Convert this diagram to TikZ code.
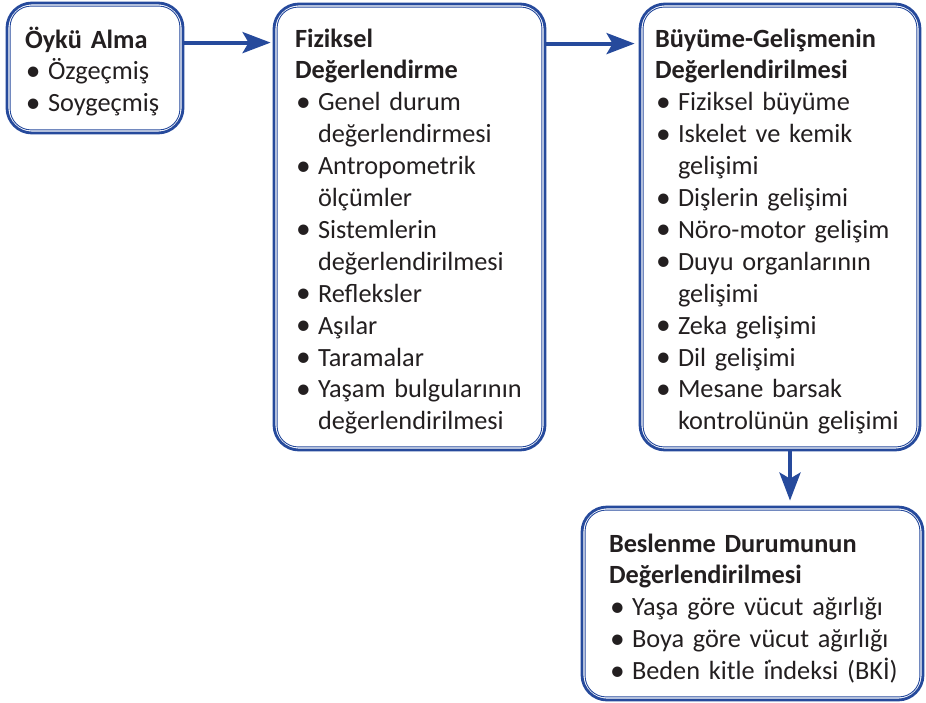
\documentclass[tikz,border=0pt]{standalone}
\usepackage{fontspec}
\setmainfont{Carlito}
\newfontfamily\markfont{Noto Sans}
\usepackage{xcolor}
\usetikzlibrary{arrows.meta}

\definecolor{boxblue}{RGB}{38,74,156}
\definecolor{txtgray}{RGB}{35,31,32}

% bullet item and its continuation line
\newcommand{\itm}[1]{\mbox{\makebox[23pt][l]{\hspace{1pt}\raisebox{-0.5pt}{\scalebox{1.12}{\textbullet}}}#1}}
\newcommand{\cnt}[1]{\mbox{\hspace*{23pt}#1}}
\newcommand{\ttl}[1]{\mbox{\textbf{#1}}}

\begin{document}
\begin{tikzpicture}[x=1pt, y=-1pt,
      stage/.style={draw=boxblue, line width=2.8pt, rounded corners=25pt,
        align=left, inner ysep=0pt, text=txtgray, text height=20pt,
        font=\fontsize{26.3}{31.9}\selectfont},
      flow/.style={draw=boxblue, line width=4pt,
        -{Stealth[length=28pt, width=21pt, inset=6pt]}}
      ]
      \useasboundingbox (0,0) rectangle (926,702);

      \node[stage, minimum width=176pt, minimum height=130pt, text depth=60pt,
        text width=140pt, inner xsep=18pt] (oyku) at (95,68)
        {\ttl{Öykü Alma}\\
         \itm{Özgeçmiş}\\
         \itm{Soygeçmiş}};

      \node[stage, minimum width=271pt, minimum height=446pt, text depth=380pt,
        text width=229pt, inner xsep=21pt] (fiziksel) at (409.5,227)
        {\ttl{Fiziksel}\\
         \ttl{Değerlendirme}\\
         \itm{Genel durum}\\
         \cnt{değerlendirmesi}\\
         \itm{Antropometrik}\\
         \cnt{ölçümler}\\
         \itm{Sistemlerin}\\
         \cnt{değerlendirilmesi}\\
         \itm{Refleksler}\\
         \itm{Aşılar}\\
         \itm{Taramalar}\\
         \itm{Yaşam bulgularının}\\
         \cnt{değerlendirilmesi}};

      \node[stage, minimum width=280pt, minimum height=446pt, text depth=380pt,
        text width=250pt, inner xsep=15pt] (buyume) at (780,227)
        {\ttl{Büyüme-Gelişmenin}\\
         \ttl{Değerlendirilmesi}\\
         \itm{Fiziksel büyüme}\\
         \itm{Iskelet ve kemik}\\
         \cnt{gelişimi}\\
         \itm{Dişlerin gelişimi}\\
         \itm{Nöro-motor gelişim}\\
         \itm{Duyu organlarının}\\
         \cnt{gelişimi}\\
         \itm{Zeka gelişimi}\\
         \itm{Dil gelişimi}\\
         \itm{Mesane barsak}\\
         \cnt{kontrolünün gelişimi}};

      \node[stage, minimum width=341pt, minimum height=193pt, text depth=123pt,
        text width=287pt, inner xsep=27pt] (beslenme) at (752.5,603.5)
        {\ttl{Beslenme Durumunun}\\
         \ttl{Değerlendirilmesi}\\
         \itm{Yaşa göre vücut ağırlığı}\\
         \itm{Boya göre vücut ağırlığı}\\
         \itm{Beden kitle i{\markfont ̇}ndeksi (BKİ)}};

      % thin inner line of the double frame
      \foreach \n in {oyku, fiziksel, buyume, beslenme}
        \draw[boxblue, line width=0.9pt, rounded corners=21pt]
          ([shift={(4.5,4.5)}]\n.north west) rectangle
          ([shift={(-4.5,-4.5)}]\n.south east);

      \draw[flow, shorten >=2pt] ([yshift=-41pt]oyku.north east)
        -- ([yshift=-41pt]oyku.north east -| fiziksel.west);
      \draw[flow, shorten >=4pt] ([yshift=-41pt]fiziksel.north east)
        -- ([yshift=-41pt]fiziksel.north east -| buyume.west);
      \draw[flow, shorten >=5pt] ([xshift=10pt]buyume.south)
        -- ([xshift=10pt]buyume.south |- beslenme.north);
    \end{tikzpicture}
\end{document}
